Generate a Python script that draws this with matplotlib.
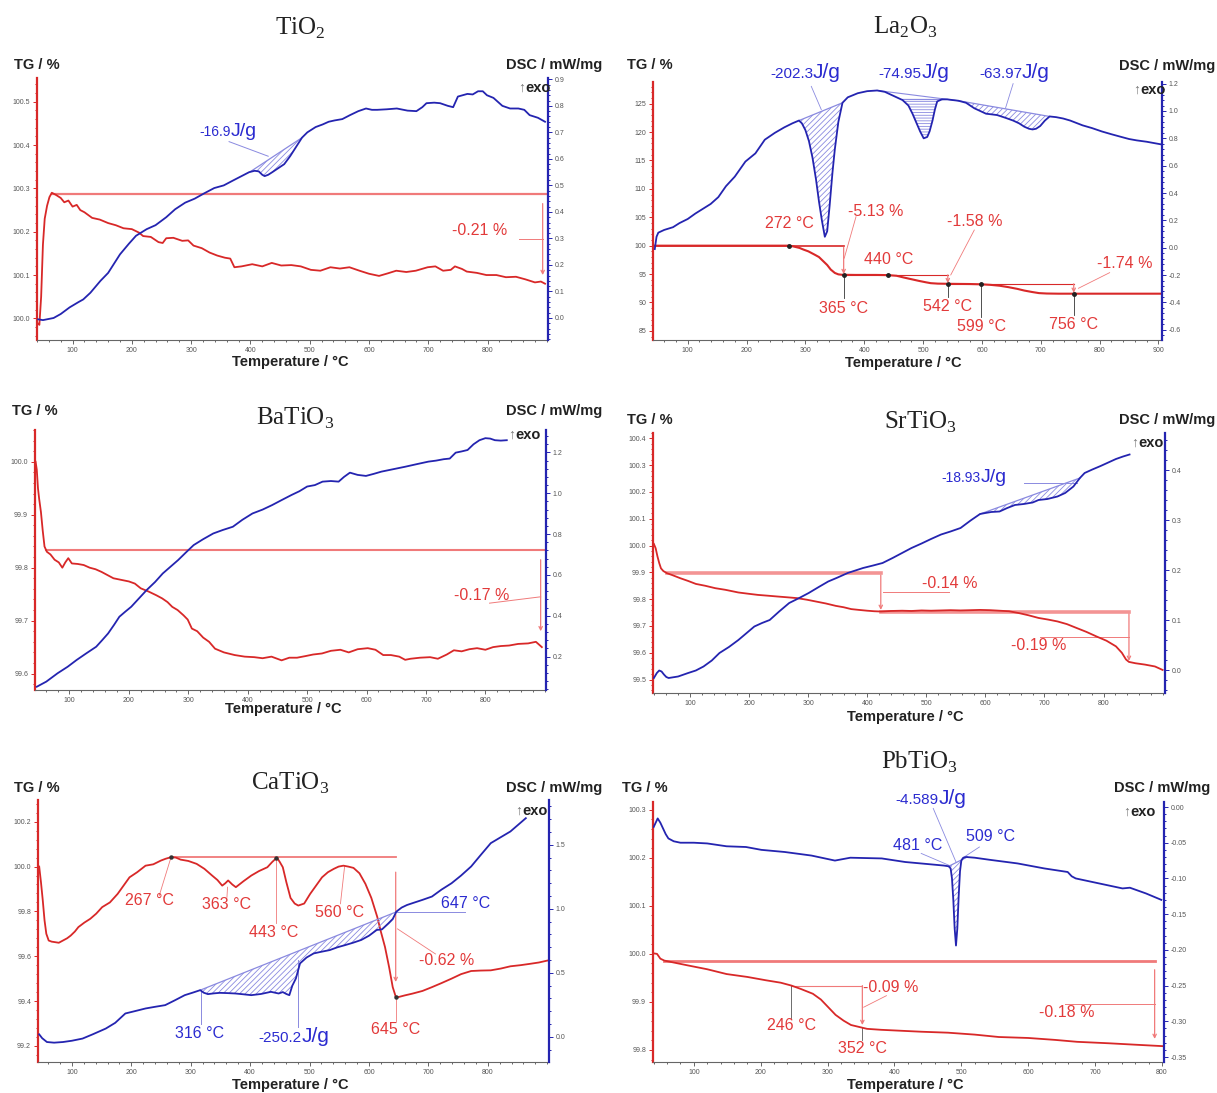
import numpy as np
import matplotlib
matplotlib.use("Agg")
import matplotlib.pyplot as plt
from matplotlib.ticker import FormatStrFormatter, AutoMinorLocator

plt.rcParams['font.family'] = ['Liberation Sans', 'DejaVu Sans']

W, H = 1217, 1093
RED = '#d82828'
LRED = '#f07a7a'
RED_T = '#e23a3a'
BLUE = '#2424b0'
LBLUE = '#8a8ae0'
BLUE_T = '#2b2bd0'

# ---------------- data: TiO2 ----------------
tio2_t_tg = [40, 44, 47, 50, 53, 57, 61, 65, 72, 80, 86, 93, 100, 107, 113, 120, 133, 146, 160, 173,
             186, 200, 212, 219, 232, 245, 252, 258, 270, 285, 295, 304, 318, 331, 344, 357, 366, 373, 385, 403,
             420, 436, 452, 469, 485, 502, 518, 535, 551, 567, 584, 600, 617, 632, 646, 663, 679, 699, 712, 725,
             738, 745, 757, 765, 782, 798, 815, 831, 848, 864, 880, 890, 897]
tio2_tg = [99.99, 99.985, 100.05, 100.17, 100.23, 100.26, 100.28, 100.29, 100.285, 100.278,
           100.268, 100.272, 100.258, 100.262, 100.25, 100.245, 100.232, 100.228, 100.22, 100.215,
           100.208, 100.206, 100.198, 100.19, 100.188, 100.176, 100.174, 100.185, 100.186, 100.179,
           100.18, 100.168, 100.162, 100.152, 100.145, 100.14, 100.138, 100.118, 100.12, 100.125,
           100.12, 100.128, 100.122, 100.123, 100.12, 100.112, 100.11, 100.118, 100.115, 100.118,
           100.11, 100.103, 100.098, 100.104, 100.11, 100.107, 100.11, 100.118, 100.12, 100.11,
           100.112, 100.12, 100.114, 100.108, 100.105, 100.1, 100.1, 100.095, 100.096, 100.09,
           100.083, 100.085, 100.08]
tio2_t_dsc = [42, 50, 68, 80, 95, 110, 118, 130, 147, 160, 180, 195, 207, 225, 240, 258, 273, 290, 306, 322,
              339, 355, 372, 385, 398, 407, 414, 420, 424, 430, 437, 447, 457, 467, 477, 487, 496, 510, 522, 532,
              542, 555, 568, 582, 595, 605, 614, 630, 647, 665, 680, 690, 697, 710, 720, 733, 742, 750, 758, 766,
              775, 784, 792, 799, 810, 825, 838, 852, 862, 871, 885, 897]
tio2_dsc = [-0.005, -0.008, 0.0, 0.015, 0.04, 0.06, 0.07, 0.095, 0.14, 0.17,
            0.24, 0.28, 0.31, 0.335, 0.35, 0.38, 0.41, 0.435, 0.45, 0.47,
            0.49, 0.5, 0.52, 0.535, 0.55, 0.555, 0.553, 0.54, 0.535, 0.54,
            0.55, 0.565, 0.58, 0.61, 0.645, 0.68, 0.70, 0.72, 0.73, 0.74,
            0.745, 0.75, 0.765, 0.78, 0.79, 0.785, 0.785, 0.787, 0.79, 0.782,
            0.78, 0.795, 0.81, 0.812, 0.81, 0.80, 0.795, 0.835, 0.84, 0.845,
            0.843, 0.855, 0.855, 0.84, 0.83, 0.80, 0.79, 0.79, 0.785, 0.765,
            0.755, 0.74]

# ---------------- data: La2O3 ----------------
la_t_tg = [44, 100, 150, 200, 250, 272, 278, 290, 297, 305, 316, 323, 330, 337, 343, 350, 356, 362, 370, 385,
           400, 420, 440, 455, 467, 480, 493, 505, 513, 525, 542, 560, 580, 599, 615, 630, 645, 660, 672, 685,
           697, 710, 730, 756, 780, 820, 860, 903]
la_tg = [100.0, 100.0, 100.0, 100.0, 100.0, 100.0, 99.9, 99.6, 99.3, 99.0,
         98.4, 98.0, 97.3, 96.6, 95.8, 95.2, 94.95, 94.88, 94.87, 94.85,
         94.85, 94.85, 94.82, 94.7, 94.4, 94.1, 93.8, 93.55, 93.4, 93.32,
         93.29, 93.27, 93.25, 93.2, 93.1, 92.95, 92.7, 92.4, 92.1, 91.85,
         91.65, 91.58, 91.55, 91.55, 91.55, 91.55, 91.55, 91.55]
la_t_dsc = [44, 47, 50, 60, 75, 86, 100, 113, 126, 139, 152, 165, 180, 198, 215, 231, 248, 264, 278, 289,
            294, 300, 306, 312, 318, 323, 328, 333, 337, 341, 346, 350, 356, 363, 372, 389, 405, 422, 435, 445,
            455, 465, 475, 482, 488, 495, 501, 507, 511, 516, 520, 524, 532, 541, 550, 560, 573, 587, 597, 607,
            617, 626, 640, 653, 663, 672, 680, 686, 692, 699, 707, 715, 726, 738, 750, 771, 787, 804, 820, 837,
            850, 863, 880, 903]
la_dsc = [-0.01, 0.08, 0.11, 0.13, 0.15, 0.18, 0.21, 0.25, 0.285, 0.32,
          0.37, 0.45, 0.52, 0.63, 0.69, 0.79, 0.84, 0.88, 0.91, 0.93,
          0.91, 0.86, 0.78, 0.66, 0.5, 0.34, 0.2, 0.08, 0.12, 0.3,
          0.55, 0.72, 0.92, 1.06, 1.1, 1.13, 1.145, 1.15, 1.14, 1.12,
          1.10, 1.08, 1.04, 0.98, 0.92, 0.85, 0.80, 0.81, 0.85, 0.93,
          1.01, 1.07, 1.085, 1.085, 1.08, 1.075, 1.06, 1.02, 1.0, 0.98,
          0.975, 0.97, 0.95, 0.93, 0.91, 0.885, 0.87, 0.865, 0.87, 0.89,
          0.93, 0.96, 0.955, 0.945, 0.93, 0.895, 0.875, 0.85, 0.83, 0.81,
          0.795, 0.785, 0.775, 0.757]

# ---------------- data: BaTiO3 ----------------
ba_t_tg = [43, 45, 47, 49, 52, 55, 58, 62, 68, 75, 82, 88, 93, 98, 104, 114, 124, 134, 144, 154,
           164, 174, 187, 200, 210, 220, 233, 246, 256, 265, 273, 282, 292, 299, 306, 315, 325, 335, 345, 360,
           378, 395, 411, 425, 440, 457, 470, 483, 497, 510, 525, 540, 556, 570, 585, 602, 615, 628, 641, 655,
           665, 674, 690, 707, 720, 735, 747, 760, 773, 786, 800, 813, 826, 840, 855, 872, 885, 895]
ba_tg = [100.0, 99.985, 99.95, 99.93, 99.905, 99.87, 99.84, 99.83, 99.825, 99.815,
         99.81, 99.80, 99.81, 99.818, 99.808, 99.807, 99.805, 99.8, 99.797, 99.792,
         99.786, 99.78, 99.777, 99.774, 99.77, 99.761, 99.755, 99.748, 99.742, 99.735,
         99.726, 99.72, 99.71, 99.702, 99.685, 99.68, 99.668, 99.66, 99.647, 99.64,
         99.635, 99.632, 99.631, 99.629, 99.632, 99.625, 99.63, 99.63, 99.633, 99.636,
         99.638, 99.643, 99.645, 99.64, 99.646, 99.648, 99.645, 99.635, 99.635, 99.632,
         99.626, 99.628, 99.63, 99.631, 99.628, 99.636, 99.644, 99.642, 99.646, 99.648,
         99.645, 99.65, 99.652, 99.653, 99.656, 99.657, 99.66, 99.65]
ba_t_dsc = [45, 61, 80, 97, 112, 128, 145, 155, 165, 175, 184, 194, 204, 217, 230, 244, 257, 270, 283, 296,
            309, 325, 342, 358, 375, 391, 408, 425, 441, 458, 474, 487, 500, 513, 526, 540, 553, 562, 572, 585,
            599, 612, 625, 645, 665, 685, 704, 717, 730, 740, 750, 760, 770, 780, 790, 800, 808, 816, 826, 836]
ba_dsc = [0.052, 0.077, 0.118, 0.15, 0.183, 0.215, 0.248, 0.28, 0.313, 0.355,
          0.395, 0.42, 0.444, 0.485, 0.526, 0.565, 0.607, 0.64, 0.673, 0.71,
          0.746, 0.775, 0.803, 0.82, 0.836, 0.87, 0.901, 0.92, 0.942, 0.968,
          0.992, 1.01, 1.033, 1.04, 1.057, 1.06, 1.057, 1.08, 1.101, 1.09,
          1.085, 1.095, 1.106, 1.118, 1.13, 1.143, 1.155, 1.16, 1.167, 1.17,
          1.199, 1.205, 1.212, 1.24, 1.26, 1.27, 1.268, 1.26, 1.258, 1.26]

# ---------------- data: SrTiO3 ----------------
sr_t_tg = [39, 42, 45, 48, 51, 55, 61, 70, 84, 97, 110, 126, 143, 160, 182, 200, 215, 232, 248, 265,
           281, 298, 314, 330, 347, 360, 373, 386, 400, 412, 423, 440, 459, 475, 492, 508, 525, 541, 558, 575,
           591, 608, 624, 640, 657, 673, 690, 706, 722, 738, 755, 771, 788, 805, 821, 831, 838, 843, 854, 870,
           887, 900]
sr_tg = [100.006, 99.99, 99.96, 99.935, 99.915, 99.905, 99.897, 99.89, 99.878, 99.868,
         99.857, 99.85, 99.841, 99.835, 99.825, 99.82, 99.816, 99.813, 99.81, 99.807,
         99.804, 99.798, 99.791, 99.784, 99.775, 99.77, 99.763, 99.76, 99.757, 99.755,
         99.754, 99.756, 99.757, 99.756, 99.758, 99.757, 99.758, 99.759, 99.758, 99.759,
         99.76, 99.759, 99.757, 99.755, 99.748, 99.74, 99.73, 99.724, 99.717, 99.707,
         99.692, 99.678, 99.661, 99.645, 99.624, 99.6, 99.575, 99.566, 99.561, 99.556,
         99.549, 99.536]
sr_t_dsc = [39, 44, 48, 52, 56, 60, 64, 80, 97, 110, 123, 137, 150, 166, 182, 196, 209, 222, 235, 251,
            268, 285, 301, 318, 334, 350, 367, 380, 393, 410, 426, 443, 459, 475, 492, 508, 525, 541, 558, 575,
            591, 600, 610, 624, 637, 650, 665, 680, 690, 705, 722, 735, 749, 760, 768, 781, 795, 808, 821, 833,
            844]
sr_dsc = [-0.015, -0.005, 0.0, -0.002, -0.008, -0.013, -0.015, -0.012, -0.005, 0.0,
          0.008, 0.02, 0.035, 0.047, 0.061, 0.075, 0.088, 0.095, 0.101, 0.118,
          0.135, 0.145, 0.155, 0.167, 0.178, 0.186, 0.195, 0.2, 0.205, 0.21,
          0.215, 0.225, 0.235, 0.245, 0.254, 0.263, 0.272, 0.278, 0.285, 0.3,
          0.313, 0.315, 0.317, 0.318, 0.325, 0.331, 0.333, 0.336, 0.341, 0.343,
          0.348, 0.355, 0.368, 0.385, 0.395, 0.402, 0.409, 0.416, 0.423, 0.428,
          0.432]

# ---------------- data: CaTiO3 ----------------
ca_t_tg = [45, 48, 51, 54, 57, 61, 66, 71, 78, 85, 92, 98, 105, 111, 121, 131, 141, 151, 164, 177,
           187, 197, 210, 224, 237, 250, 258, 267, 275, 283, 296, 310, 323, 336, 345, 353, 358, 363, 370, 376,
           389, 402, 415, 429, 437, 445, 450, 455, 461, 468, 475, 481, 491, 501, 511, 521, 531, 541, 549, 557,
           565, 574, 584, 594, 604, 614, 620, 627, 634, 640, 645, 650, 660, 673, 690, 706, 722, 739, 755, 772,
           788, 805, 822, 838, 855, 871, 886, 901]
ca_tg = [100.0, 99.93, 99.85, 99.76, 99.7, 99.67, 99.665, 99.663, 99.66, 99.67,
         99.68, 99.692, 99.71, 99.73, 99.75, 99.767, 99.79, 99.819, 99.84, 99.878,
         99.915, 99.952, 99.975, 100.004, 100.01, 100.027, 100.035, 100.042, 100.04, 100.031,
         100.025, 100.012, 99.99, 99.96, 99.94, 99.915, 99.925, 99.938, 99.92, 99.908,
         99.935, 99.96, 99.98, 99.997, 100.02, 100.04, 100.02, 99.997, 99.93, 99.86,
         99.835, 99.826, 99.835, 99.878, 99.915, 99.952, 99.975, 99.99, 100.0, 100.004,
         100.0, 99.994, 99.97, 99.923, 99.86, 99.775, 99.71, 99.641, 99.55, 99.462,
         99.42, 99.418, 99.425, 99.433, 99.445, 99.462, 99.48, 99.5, 99.52, 99.534,
         99.536, 99.537, 99.545, 99.555, 99.56, 99.566, 99.572, 99.581]
ca_t_dsc = [45, 50, 58, 70, 85, 100, 118, 135, 157, 173, 190, 205, 224, 240, 257, 273, 290, 303, 316, 322,
            329, 339, 349, 362, 375, 388, 402, 418, 435, 442, 448, 455, 461, 466, 471, 477, 484, 495, 507, 520,
            534, 547, 560, 573, 587, 600, 613, 622, 633, 640, 646, 655, 664, 673, 690, 706, 722, 739, 755, 772,
            788, 805, 822, 838, 852, 864]
ca_dsc = [0.02, -0.01, -0.04, -0.045, -0.04, -0.03, -0.013, 0.02, 0.065, 0.11,
          0.183, 0.2, 0.222, 0.235, 0.248, 0.285, 0.326, 0.345, 0.365, 0.345,
          0.334, 0.34, 0.344, 0.342, 0.339, 0.333, 0.326, 0.335, 0.352, 0.345,
          0.339, 0.35, 0.335, 0.326, 0.4, 0.456, 0.574, 0.62, 0.652, 0.665,
          0.678, 0.7, 0.717, 0.735, 0.757, 0.79, 0.835, 0.84, 0.887, 0.92,
          0.978, 1.01, 1.03, 1.044, 1.07, 1.096, 1.15, 1.2, 1.26, 1.331,
          1.42, 1.513, 1.56, 1.604, 1.66, 1.708]

# ---------------- data: PbTiO3 ----------------
pb_t_tg = [40, 45, 50, 56, 70, 91, 120, 149, 180, 208, 230, 246, 260, 278, 290, 301, 312, 324, 335, 347,
           359, 380, 410, 440, 480, 520, 556, 600, 640, 673, 720, 760, 801]
pb_tg = [100.001, 100.0, 99.99, 99.986, 99.982, 99.976, 99.968, 99.958, 99.952, 99.945,
         99.94, 99.934, 99.927, 99.917, 99.905, 99.889, 99.873, 99.861, 99.852, 99.848,
         99.844, 99.842, 99.84, 99.838, 99.836, 99.832, 99.827, 99.825, 99.821, 99.817,
         99.814, 99.811, 99.808]
pb_t_dsc = [40, 46, 50, 54, 58, 62, 70, 80, 100, 120, 149, 178, 201, 236, 276, 311, 334, 381, 416, 451,
            474, 481, 484, 486, 488, 490, 492, 494, 496, 498, 500, 503, 507, 520, 543, 584, 624, 659, 665, 671,
            706, 741, 752, 776, 799]
pb_dsc = [-0.028, -0.016, -0.022, -0.03, -0.038, -0.044, -0.048, -0.05, -0.05, -0.051,
          -0.055, -0.056, -0.06, -0.063, -0.068, -0.075, -0.071, -0.072, -0.077, -0.08,
          -0.082, -0.083, -0.086, -0.1, -0.13, -0.17, -0.194, -0.17, -0.125, -0.09,
          -0.075, -0.071, -0.07, -0.071, -0.074, -0.079, -0.086, -0.091, -0.097, -0.1,
          -0.107, -0.114, -0.113, -0.121, -0.13]
pb_dsc_ticks = [-0.35, -0.30, -0.25, -0.20, -0.15, -0.10, -0.05, 0.0]


fig = plt.figure(figsize=(W / 100, H / 100), dpi=100)


def ftext(x, y, s, **kw):
    fig.text(x / W, 1 - y / H, s, **kw)


def panel(rect, title, title_xy, tg_xy, dsc_xy, exo_xy, xl_xy, xlim, tglim, dsclim,
          xticks, tgticks, dscticks, tgfmt, dscfmt):
    x0, y0, x1, y1 = rect
    ax = fig.add_axes([x0 / W, 1 - y1 / H, (x1 - x0) / W, (y1 - y0) / H])
    ax2 = ax.twinx()
    ax.set_xlim(*xlim)
    ax.set_ylim(*tglim)
    ax2.set_ylim(*dsclim)
    ax.set_xticks(xticks)
    ax.set_yticks(tgticks)
    ax2.set_yticks(dscticks)
    ax.yaxis.set_major_formatter(FormatStrFormatter(tgfmt))
    ax2.yaxis.set_major_formatter(FormatStrFormatter(dscfmt))
    ax.xaxis.set_minor_locator(AutoMinorLocator(5))
    ax.yaxis.set_minor_locator(AutoMinorLocator(5))
    ax2.yaxis.set_minor_locator(AutoMinorLocator(5))
    for a in (ax, ax2):
        for s in a.spines.values():
            s.set_visible(False)
    ax.spines['left'].set_visible(True)
    ax.spines['left'].set_color(RED)
    ax.spines['left'].set_linewidth(1.6)
    ax.spines['bottom'].set_visible(True)
    ax.spines['bottom'].set_color('#666666')
    ax.spines['bottom'].set_linewidth(0.8)
    ax2.spines['right'].set_visible(True)
    ax2.spines['right'].set_color(BLUE)
    ax2.spines['right'].set_linewidth(1.6)
    ax.tick_params(axis='y', which='both', color=RED, labelcolor='#555555', labelsize=5, width=0.7, pad=2)
    ax.tick_params(axis='y', which='major', length=3)
    ax.tick_params(axis='y', which='minor', length=1.5)
    ax2.tick_params(axis='y', which='both', color=BLUE, labelcolor='#555555', labelsize=5, width=0.7, pad=2)
    ax2.tick_params(axis='y', which='major', length=3)
    ax2.tick_params(axis='y', which='minor', length=1.5)
    ax.tick_params(axis='x', which='both', color='#666666', labelcolor='#555555', labelsize=5, width=0.7, pad=2)
    ax.tick_params(axis='x', which='major', length=3)
    ax.tick_params(axis='x', which='minor', length=1.5)

    ftext(*title_xy, title, family=['Liberation Serif', 'DejaVu Serif'], fontsize=18,
          ha='center', va='center', color='#222222')
    ftext(*tg_xy, 'TG / %', fontsize=10.5, fontweight='bold', ha='left', va='center', color='#222222')
    ftext(*dsc_xy, 'DSC / mW/mg', fontsize=10.5, fontweight='bold', ha='right', va='center', color='#222222')
    ftext(exo_xy[0], exo_xy[1], '\u2191', fontsize=10, ha='right', va='center', color='#777777')
    ftext(exo_xy[0], exo_xy[1], 'exo', fontsize=10.5, fontweight='bold', ha='left', va='center',
          color='#222222')
    ftext(*xl_xy, 'Temperature / \u00b0C', fontsize=10.5, fontweight='bold', ha='center', va='center',
          color='#222222')
    return ax, ax2


def hatch_area(ax2, t, y, t0, y0, t1, y1, hatch='//////'):
    t = np.asarray(t, float)
    y = np.asarray(y, float)
    m = (t >= t0) & (t <= t1)
    tt = np.concatenate([[t0], t[m], [t1]])
    yy = np.concatenate([[y0], y[m], [y1]])
    base = y0 + (y1 - y0) * (tt - t0) / (t1 - t0)
    ax2.fill_between(tt, base, yy, where=yy <= base + 1e-9, facecolor='none', edgecolor=LBLUE,
                     hatch=hatch, linewidth=0)
    ax2.plot([t0, t1], [y0, y1], color=LBLUE, lw=0.9)


def varrow(ax, x, ytop, ybot):
    ax.annotate('', xy=(x, ybot), xytext=(x, ytop),
                arrowprops=dict(arrowstyle='->', color=LRED, lw=0.9, mutation_scale=6,
                                shrinkA=0, shrinkB=0))


def jg(ax2, x, y, num, size_num=10, size_unit=14):
    ax2.text(x, y, num, color=BLUE_T, fontsize=size_num, ha='right', va='baseline', clip_on=False)
    ax2.text(x, y, 'J/g', color=BLUE_T, fontsize=size_unit, ha='left', va='baseline', clip_on=False)


plt.rcParams['hatch.linewidth'] = 0.6
AFS = 11.5

# ===== TiO2 =====
ax, ax2 = panel((37, 78, 548, 340), 'TiO$_\\mathregular{2}$', (300, 28), (14, 65), (602, 65), (525, 88),
                (290, 362), (40, 902), (99.95, 100.555), (-0.083, 0.905),
                range(100, 900, 100), np.arange(100.0, 100.51, 0.1), np.arange(0.0, 0.91, 0.1), '%.1f', '%.1f')
ax.plot([65, 900], [100.288, 100.288], color=LRED, lw=1.6)
varrow(ax, 893, 100.265, 100.10)
ax.plot([853, 893], [100.183, 100.183], color=LRED, lw=0.7)
ax.text(787, 100.202, '-0.21 %', color=RED_T, fontsize=AFS, ha='center', va='center')
ax.plot(tio2_t_tg, tio2_tg, color=RED, lw=1.3)
hatch_area(ax2, tio2_t_dsc, tio2_dsc, 400, 0.552, 487, 0.68)
ax2.plot([364, 430], [0.665, 0.61], color=LBLUE, lw=0.7)
jg(ax2, 366, 0.685, '-16.9')
ax2.plot(tio2_t_dsc, tio2_dsc, color=BLUE, lw=1.3)

# ===== La2O3 =====
ax, ax2 = panel((653, 82, 1162, 340), 'La$_\\mathregular{2}$O$_\\mathregular{3}$', (905, 27), (627, 65),
                (1215, 66), (1140, 90), (903, 363), (41, 906), (83.4, 128.8), (-0.675, 1.212),
                range(100, 901, 100), range(85, 126, 5), np.arange(-0.6, 1.21, 0.2), '%d', '%.1f')
ax.plot([44, 365], [100, 100], color=RED, lw=1.2)
ax.plot([365, 542], [94.87, 94.87], color=RED, lw=0.8)
ax.plot([542, 756], [93.29, 93.29], color=RED, lw=0.8)
varrow(ax, 365, 99.7, 95.0)
varrow(ax, 542, 94.87, 93.4)
varrow(ax, 756, 93.29, 91.7)
for tx, ty, yb in [(365, 94.87, 90.8), (542, 93.29, 91.0), (599, 93.2, 87.5), (756, 91.55, 87.8)]:
    ax.plot([tx, tx], [ty, yb], color='#333333', lw=0.6)
ax.plot([366, 386], [97.8, 105.1], color=LRED, lw=0.6)
ax.plot([547, 587], [94.85, 102.75], color=LRED, lw=0.6)
ax.plot([764, 817], [92.5, 95.25], color=LRED, lw=0.6)
ax.plot(la_t_tg, la_tg, color=RED, lw=1.5)
ax.plot([272, 365, 440, 542, 599, 756], [100, 94.87, 94.85, 93.29, 93.2, 91.55], 'o', ms=2.5,
        color='#222222')
for s, tx, ty in [('272 \u00b0C', 273, 103.9), ('-5.13 %', 420, 106.0), ('440 \u00b0C', 442, 97.6),
                  ('-1.58 %', 588, 104.2), ('365 \u00b0C', 365, 89.0), ('542 \u00b0C', 542, 89.3),
                  ('599 \u00b0C', 600, 85.8), ('-1.74 %', 843, 96.9), ('756 \u00b0C', 756, 86.2)]:
    ax.text(tx, ty, s, color=RED_T, fontsize=AFS, ha='center', va='center')
hatch_area(ax2, la_t_dsc, la_dsc, 289, 0.93, 363, 1.06)
hatch_area(ax2, la_t_dsc, la_dsc, 465, 1.085, 532, 1.085, hatch='------')
hatch_area(ax2, la_t_dsc, la_dsc, 560, 1.075, 715, 0.96)
ax2.plot([422, 560], [1.15, 1.075], color=LBLUE, lw=0.8)
ax2.plot([310, 327], [1.18, 1.01], color=LBLUE, lw=0.6)
ax2.plot([653, 640], [1.2, 1.02], color=LBLUE, lw=0.6)
ax2.plot(la_t_dsc, la_dsc, color=BLUE, lw=1.3)
jg(ax2, 313, 1.24, '-202.3', 11, 15)
jg(ax2, 497, 1.24, '-74.95', 11, 15)
jg(ax2, 668, 1.24, '-63.97', 11, 15)

# ===== BaTiO3 =====
ax, ax2 = panel((35, 430, 546, 690), 'BaTiO$_\\mathregular{3}$', (295, 418), (12, 411), (602, 411),
                (515, 435), (283, 709), (42, 902), (99.569, 100.06), (0.036, 1.31),
                range(100, 900, 100), np.arange(99.6, 100.01, 0.1), np.arange(0.2, 1.21, 0.2), '%.1f', '%.1f')
ax.plot([60, 900], [99.833, 99.833], color=LRED, lw=1.5)
varrow(ax, 893, 99.815, 99.68)
ax.plot([807, 893], [99.733, 99.745], color=LRED, lw=0.7)
ax.text(793, 99.748, '-0.17 %', color=RED_T, fontsize=AFS, ha='center', va='center')
ax.plot(ba_t_tg, ba_tg, color=RED, lw=1.3)
ax2.plot(ba_t_dsc, ba_dsc, color=BLUE, lw=1.3)

# ===== SrTiO3 =====
ax, ax2 = panel((653, 433, 1165, 693), 'SrTiO$_\\mathregular{3}$', (920, 422), (627, 420), (1215, 420),
                (1138, 443), (905, 717), (37.5, 904), (99.45, 100.42), (-0.045, 0.475),
                range(100, 900, 100), np.arange(99.5, 100.41, 0.1), np.arange(0.0, 0.41, 0.1), '%.1f', '%.1f')
ax.plot([61, 423], [99.897, 99.897], color=LRED, lw=2.6, alpha=0.8)
ax.plot([423, 843], [99.754, 99.754], color=LRED, lw=2.6, alpha=0.8)
varrow(ax, 423, 99.89, 99.76)
varrow(ax, 843, 99.745, 99.57)
ax.plot([426, 538], [99.825, 99.825], color=LRED, lw=0.7)
ax.plot([692, 843], [99.658, 99.658], color=LRED, lw=0.7)
ax.text(539, 99.859, '-0.14 %', color=RED_T, fontsize=AFS, ha='center', va='center')
ax.text(690, 99.626, '-0.19 %', color=RED_T, fontsize=AFS, ha='center', va='center')
ax.plot(sr_t_tg, sr_tg, color=RED, lw=1.3)
hatch_area(ax2, sr_t_dsc, sr_dsc, 591, 0.313, 760, 0.385)
ax2.plot([666, 755], [0.375, 0.375], color=LBLUE, lw=0.7)
jg(ax2, 592, 0.378, '-18.93')
ax2.plot(sr_t_dsc, sr_dsc, color=BLUE, lw=1.3)

# ===== CaTiO3 =====
ax, ax2 = panel((38, 800, 549, 1062), 'CaTiO$_\\mathregular{3}$', (290, 783), (14, 788), (602, 788),
                (522, 811), (290, 1085), (43, 903), (99.128, 100.297), (-0.196, 1.85),
                range(100, 900, 100), np.arange(99.2, 100.21, 0.2), np.arange(0.0, 1.51, 0.5), '%.1f', '%.1f')
ax.plot([267, 645], [100.042, 100.042], color=LRED, lw=1.3)
varrow(ax, 645, 99.975, 99.485)
ax.plot([247, 266], [99.87, 100.034], color=LRED, lw=0.6)
ax.plot([361, 362], [99.863, 99.908], color=LRED, lw=0.6)
ax.plot([443, 443], [100.034, 99.75], color=LRED, lw=0.6)
ax.plot([552, 559], [99.834, 100.0], color=LRED, lw=0.6)
ax.plot([648, 712], [99.722, 99.61], color=LRED, lw=0.6)
ax.plot([645, 645], [99.418, 99.31], color=LRED, lw=0.6)
ax.plot(ca_t_tg, ca_tg, color=RED, lw=1.3)
ax.plot([267, 443, 645], [100.042, 100.039, 99.418], 'o', ms=2.2, color='#333333')
for s, tx, ty in [('267 \u00b0C', 231, 99.848), ('363 \u00b0C', 360, 99.83), ('443 \u00b0C', 440, 99.707),
                  ('560 \u00b0C', 550, 99.796), ('-0.62 %', 730, 99.581), ('645 \u00b0C', 645, 99.272)]:
    ax.text(tx, ty, s, color=RED_T, fontsize=AFS, ha='center', va='center')
hatch_area(ax2, ca_t_dsc, ca_dsc, 316, 0.365, 647, 0.978)
ax2.plot([646, 762], [0.978, 0.978], color=LBLUE, lw=0.7)
ax2.plot([317, 317], [0.365, 0.104], color=LBLUE, lw=0.7)
ax2.plot([481, 481], [0.6, 0.078], color=LBLUE, lw=0.7)
ax2.plot(ca_t_dsc, ca_dsc, color=BLUE, lw=1.3)
ax2.text(762, 1.038, '647 \u00b0C', color=BLUE_T, fontsize=AFS, ha='center', va='center')
ax2.text(315, 0.026, '316 \u00b0C', color=BLUE_T, fontsize=AFS, ha='center', va='center')
jg(ax2, 486, -0.04, '-250.2', 11, 15)

# ===== PbTiO3 =====
ax, ax2 = panel((653, 802, 1164, 1062), 'PbTiO$_\\mathregular{3}$', (920, 762), (622, 788), (1210, 788),
                (1130, 812), (905, 1085), (39, 803), (99.775, 100.316), (-0.357, 0.007),
                range(100, 801, 100), np.arange(99.8, 100.31, 0.1), pb_dsc_ticks, '%.1f', '%.2f')
ax.plot([56, 790], [99.986, 99.986], color=LRED, lw=2.0)
varrow(ax, 789, 99.967, 99.823)
ax.plot([655, 789], [99.896, 99.896], color=LRED, lw=0.7)
ax.plot([246, 352], [99.934, 99.934], color=LRED, lw=0.8)
varrow(ax, 352, 99.934, 99.852)
ax.plot([354, 388], [99.889, 99.913], color=LRED, lw=0.6)
ax.plot([246, 246], [99.934, 99.866], color='#555555', lw=0.6)
ax.plot([352, 352], [99.848, 99.82], color='#555555', lw=0.6)
ax.plot(pb_t_tg, pb_tg, color=RED, lw=1.3)
for s, tx, ty in [('-0.18 %', 657, 99.879), ('-0.09 %', 395, 99.929), ('246 \u00b0C', 246, 99.851),
                  ('352 \u00b0C', 352, 99.803)]:
    ax.text(tx, ty, s, color=RED_T, fontsize=AFS, ha='center', va='center')
hatch_area(ax2, pb_t_dsc, pb_dsc, 481, -0.083, 509, -0.07)
ax2.plot([458, 492], [-0.002, -0.077], color=LBLUE, lw=0.6)
ax2.plot([440, 485], [-0.065, -0.083], color=LBLUE, lw=0.6)
ax2.plot([527, 501], [-0.056, -0.072], color=LBLUE, lw=0.6)
ax2.plot(pb_t_dsc, pb_dsc, color=BLUE, lw=1.3)
ax2.text(435, -0.054, '481 \u00b0C', color=BLUE_T, fontsize=AFS, ha='center', va='center')
ax2.text(543, -0.041, '509 \u00b0C', color=BLUE_T, fontsize=AFS, ha='center', va='center')
jg(ax2, 466, 0.004, '-4.589', 11, 15)

fig.savefig('out.png', dpi=100)
